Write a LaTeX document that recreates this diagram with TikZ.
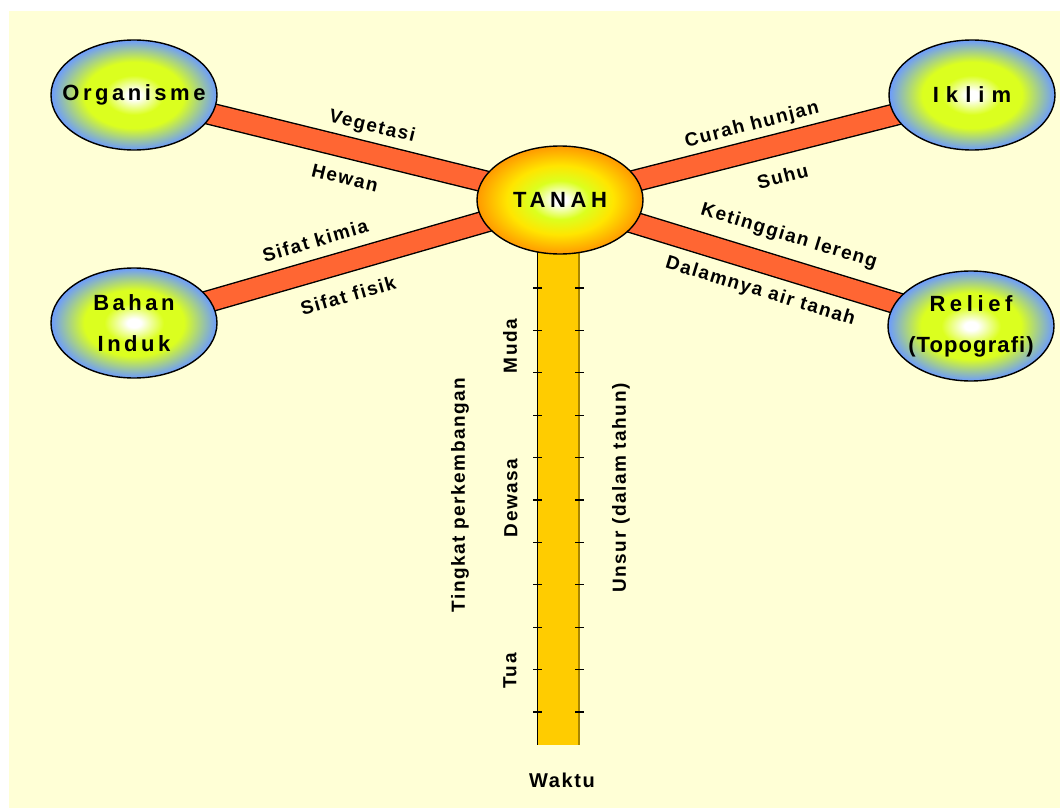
\documentclass[tikz,border=0pt]{standalone}
\usepackage{fontspec}
\setmainfont{Liberation Sans}
\usetikzlibrary{shapes.geometric,backgrounds}
\definecolor{cream}{HTML}{FFFFD6}
\definecolor{spokered}{HTML}{FF6633}
\definecolor{stemgold}{HTML}{FFCC00}
\definecolor{stemshade}{HTML}{A88600}
\definecolor{glowlime}{rgb}{0.86,1,0.12}
\definecolor{glowblue}{HTML}{6B9BFF}
\definecolor{glowyellow}{rgb}{1,0.9,0}
\definecolor{gloworange}{HTML}{FF9900}
\pgfdeclareradialshading{ovalglow}{\pgfpoint{0bp}{0bp}}{color(0bp)=(white); color(2bp)=(white); color(9bp)=(glowlime); color(15bp)=(glowlime); color(25bp)=(glowblue); color(50bp)=(glowblue)}
\pgfdeclareradialshading{coreglow}{\pgfpoint{0bp}{0bp}}{color(0bp)=(white); color(2bp)=(white); color(9bp)=(glowlime); color(16bp)=(glowyellow); color(25bp)=(gloworange); color(50bp)=(gloworange)}
\tikzset{
  oval/.style={ellipse, draw=black, line width=1.4pt, minimum width=166pt, minimum height=110pt, inner xsep=-30pt, inner ysep=0pt, shade, shading=ovalglow, align=center, font=\bfseries\fontsize{22}{41}\selectfont},
  core/.style={oval, shading=coreglow, minimum height=108pt},
  spoke/.style={draw=black, line width=1.4pt, double=spokered, double distance=20pt},
  lbl/.style={font=\bfseries\fontsize{19}{19}\selectfont\addfontfeatures{LetterSpace=8}, sloped, inner sep=0pt},
  stemlbl/.style={font=\bfseries\fontsize{19}{19}\selectfont\addfontfeatures{LetterSpace=8}, rotate=90, inner sep=0pt},
}

\begin{document}
\begin{tikzpicture}[x=1pt,y=-1pt]
  \useasboundingbox (0,0) rectangle (1060,808);

  %%%%% OVALS %%%%%
  \node[core] (tanah) at (560,200) {\addfontfeatures{LetterSpace=21}TANAH};
  \node[oval] (organisme) at (134,95) {\addfontfeatures{LetterSpace=16}Organisme};
  \node[oval] (iklim) at (972,95) {\addfontfeatures{LetterSpace=32}Iklim};
  \node[oval] (bahan) at (134,323) {\addfontfeatures{LetterSpace=16}Bahan\\\addfontfeatures{LetterSpace=16}Induk};
  \node[oval] (relief) at (971,326) {\addfontfeatures{LetterSpace=21}Relief\\\addfontfeatures{LetterSpace=5}(Topografi)};

  \begin{scope}[on background layer]
    \fill[cream] (9,11) rectangle (1060,808);

    %%%%% SPOKES %%%%%
    \draw[spoke] (organisme.center) -- node[lbl, pos=.544, yshift=26pt] {Vegetasi}
      node[lbl, pos=.512, yshift=-30pt] {Hewan} (tanah.center);
    \draw[spoke] (tanah.center) -- node[lbl, pos=.481, yshift=25pt] {Curah hunjan}
      node[lbl, pos=.521, yshift=-32pt] {Suhu} (iklim.center);
    \draw[spoke] (bahan.center) -- node[lbl, pos=.444, yshift=29pt] {Sifat kimia}
      node[lbl, pos=.481, yshift=-33pt] {Sifat fisik} (tanah.center);
    \draw[spoke] (tanah.center) -- node[lbl, pos=.534, yshift=32pt] {Ketinggian lereng}
      node[lbl, pos=.508, yshift=-29pt] {Dalamnya air tanah} (relief.center);

    %%%%% STEM %%%%%
    \fill[stemgold] (537,240) rectangle (580,745);
    \draw[line width=1.2pt] (537.5,250) -- (537.5,745);
    \draw[stemshade, line width=2.5pt] (579,250) -- (579,745);
    \foreach \k in {0,...,10}
      \draw[line width=1.2pt] (533,{288+42.4*\k}) -- (542,{288+42.4*\k})
        (575,{288+42.4*\k}) -- (584,{288+42.4*\k});
  \end{scope}

  \node[stemlbl] (muda) at (510,346) {Muda};
  \node[stemlbl] (dewasa) at (511,498) {Dewasa};
  \node[stemlbl] (tua) at (510,671) {Tua};
  \node[stemlbl] (tingkat) at (460,495) {Tingkat perkembangan};
  \node[stemlbl] (unsur) at (621,488) {Unsur (dalam tahun)};
  \node[font=\bfseries\fontsize{20}{20}\selectfont\addfontfeatures{LetterSpace=8}, inner sep=0pt] (waktu) at (562,780) {Waktu};
\end{tikzpicture}
\end{document}
